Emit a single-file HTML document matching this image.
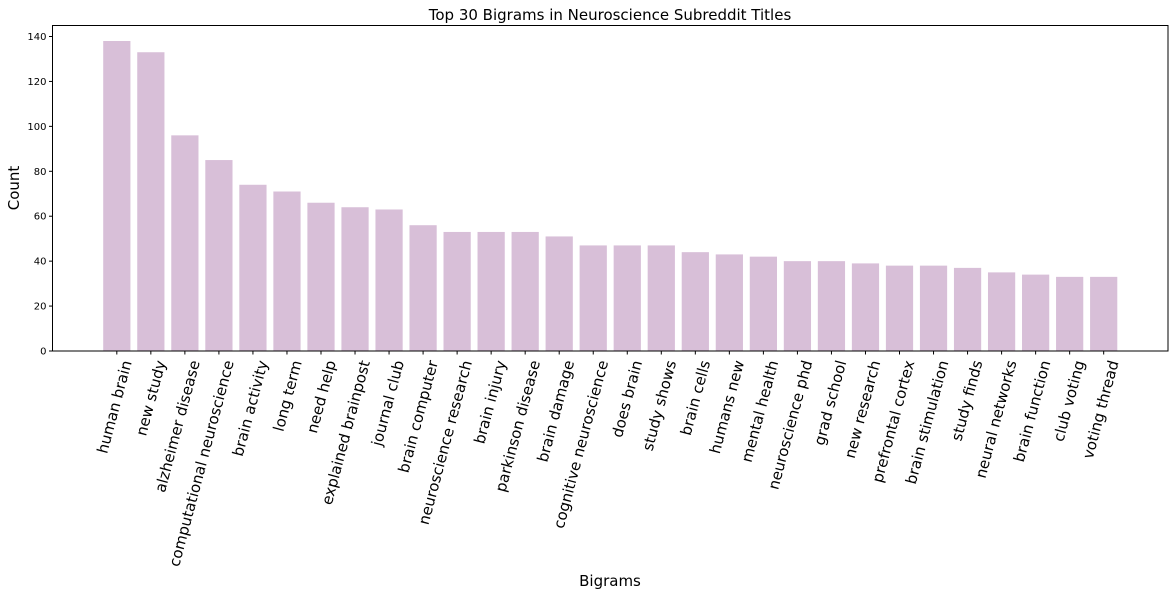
<!DOCTYPE html>
<html><head><meta charset="utf-8"><style>
body{margin:0;background:#fff;}
svg{font-family:"DejaVu Sans","Liberation Sans",sans-serif;}
</style></head><body>
<svg id="chart" width="1175" height="595" xmlns="http://www.w3.org/2000/svg">
<rect width="1175" height="595" fill="#fff"/>
<text x="610" y="20" font-size="15" text-anchor="middle">Top 30 Bigrams in Neuroscience Subreddit Titles</text>
<text x="19" y="188" font-size="15" text-anchor="middle" transform="rotate(-90 19 188)">Count</text>
<text x="610" y="586" font-size="15" text-anchor="middle">Bigrams</text>
<g id="bars"></g><g id="yticks"></g><g id="xticks"></g>
<rect x="52.5" y="25.5" width="1115.5" height="325.5" fill="none" stroke="#000" stroke-width="1"/>
</svg>
<script>
const categories=["human brain","new study","alzheimer disease","computational neuroscience","brain activity","long term","need help","explained brainpost","journal club","brain computer","neuroscience research","brain injury","parkinson disease","brain damage","cognitive neuroscience","does brain","study shows","brain cells","humans new","mental health","neuroscience phd","grad school","new research","prefrontal cortex","brain stimulation","study finds","neural networks","brain function","club voting","voting thread"];
const counts=[138,133,96,85,74,71,66,64,63,56,53,53,53,51,47,47,47,44,43,42,40,40,39,38,38,37,35,34,33,33];
const yTicks=[0,20,40,60,80,100,120,140];
const NS="http://www.w3.org/2000/svg";
const L=52.5,R=1168,T=25.5,B=351;
const n=counts.length;
const xmin=-0.4-0.05*(n-0.2),xmax=n-1+0.4+0.05*(n-0.2);
const ymax=Math.max(...counts)*1.05;
const xs=v=>L+(v-xmin)/(xmax-xmin)*(R-L);
const ys=v=>B-v/ymax*(B-T);
function mk(tag,attrs,parent){const e=document.createElementNS(NS,tag);for(const k in attrs)e.setAttribute(k,attrs[k]);parent.appendChild(e);return e;}
const gb=document.getElementById('bars'),gy=document.getElementById('yticks'),gx=document.getElementById('xticks');
counts.forEach((c,i)=>{
 const r=mk('rect',{x:xs(i-0.4),y:ys(c),width:xs(i+0.4)-xs(i-0.4),height:B-ys(c),fill:'#d8bfd8'},gb);
 
 
 const x=xs(i);
 const t=mk('line',{x1:x,x2:x,y1:B,y2:B+3.5,stroke:'#000'},gx);
 
 
 const ax=x+15,ay=B+11;
 const lb=mk('text',{x:ax,y:ay,'font-size':15,'text-anchor':'end',transform:`rotate(-75 ${ax} ${ay})`},gx);
 lb.textContent=categories[i];
 
 
});
yTicks.forEach(v=>{
 const y=ys(v);
 const t=mk('line',{x1:L-3.5,x2:L,y1:y,y2:y,stroke:'#000'},gy);
 
 
 const lb=mk('text',{x:L-6,y:y+3.5,'font-size':10,'text-anchor':'end'},gy);
 lb.textContent=v;
 
 
});
</script>
</body></html>
